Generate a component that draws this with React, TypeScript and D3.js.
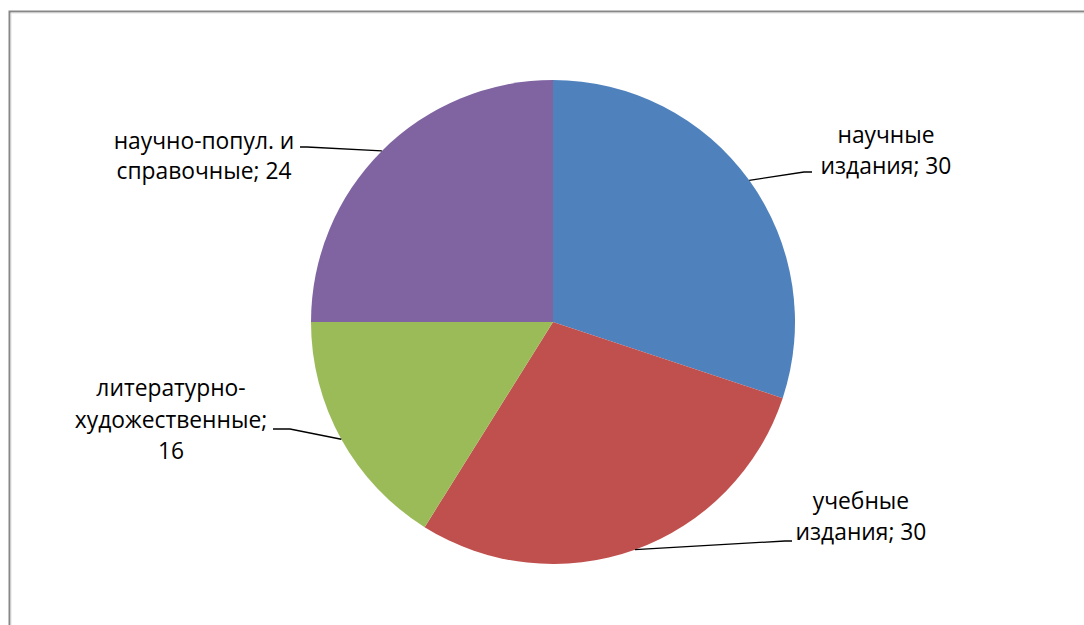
import React from 'react';
import * as d3 from 'd3';

// ---- data ----
const categories = [
  'научные издания',
  'учебные издания',
  'литературно-художественные',
  'научно-попул. и справочные',
];
// slice sizes (percent)
const shares = [30.1, 28.8, 16.1, 25.0];
// values printed in the data labels
const labelValues = [30, 30, 16, 24];
const colors = ['#4F81BD', '#C0504D', '#9BBB59', '#8064A2'];

// ---- layout ----
const W = 1084;
const H = 625;
const CX = 553;
const CY = 322;
const R = 242;
const FONT = '"Open Sans", "Noto Sans", sans-serif';
const FS = 22.8;

type LabelLayout = {
  breaks: number[];
  x: number;
  y: number;
  lh: number;
  leader: [number, number][]; // knee points from label side to slice
};

const labelLayout: LabelLayout[] = [
  { breaks: [7], x: 886, y: 143, lh: 31, leader: [[812, 172], [804, 172]] },
  { breaks: [7], x: 861, y: 509, lh: 31, leader: [[792, 541], [785, 541]] },
  { breaks: [12, 27], x: 171, y: 396, lh: 31.5, leader: [[273, 429], [290, 429]] },
  { breaks: [15], x: 204, y: 149, lh: 30, leader: [[300, 147], [307, 147]] },
];

function splitAt(s: string, breaks: number[]): string[] {
  const out: string[] = [];
  let prev = 0;
  for (const b of breaks) {
    out.push(s.slice(prev, b).trim());
    prev = b;
  }
  out.push(s.slice(prev).trim());
  return out;
}

export default function App() {
  const pie = d3
    .pie<number>()
    .sort(null)
    .value((d) => d)
    .startAngle(0)
    .endAngle(2 * Math.PI);
  const arcs = pie(shares);
  const arcGen = d3.arc<d3.PieArcDatum<number>>().innerRadius(0).outerRadius(R);

  React.useEffect(() => {
    document.body.style.margin = '0';
  }, []);

  return (
    <svg
      width={W}
      height={H}
      style={{ position: 'absolute', left: 0, top: 0, background: '#fff' }}
    >
      <rect x={0} y={0} width={W} height={H} fill="#fff" />
      {/* chart frame */}
      <path d={`M9.5,${H + 2} V11.5 H${W + 2}`} fill="none" stroke="#878787" strokeWidth={2} />
      <path d={`M11,${H + 2} V13 H${W + 2}`} fill="none" stroke="#d9d9d9" strokeWidth={0.8} />

      <g transform={`translate(${CX},${CY})`}>
        {arcs.map((a, i) => (
          <path key={i} d={arcGen(a) || ''} fill={colors[i]} />
        ))}
      </g>

      {arcs.map((a, i) => {
        const mid = (a.startAngle + a.endAngle) / 2;
        const px = CX + R * Math.sin(mid);
        const py = CY - R * Math.cos(mid);
        const L = labelLayout[i];
        const pts: [number, number][] = [...L.leader, [px, py]];
        const line = d3.line()(pts) || '';
        const full = `${categories[i]}; ${labelValues[i]}`;
        const lines = splitAt(full, L.breaks);
        return (
          <g key={i}>
            <path d={line} fill="none" stroke="#000" strokeWidth={1.3} />
            <text
              x={L.x}
              y={L.y}
              textAnchor="middle"
              fontFamily={FONT}
              fontSize={FS}
              fill="#000"
            >
              {lines.map((t, j) => (
                <tspan key={j} x={L.x} y={L.y + j * L.lh}>
                  {t}
                </tspan>
              ))}
            </text>
          </g>
        );
      })}
    </svg>
  );
}
